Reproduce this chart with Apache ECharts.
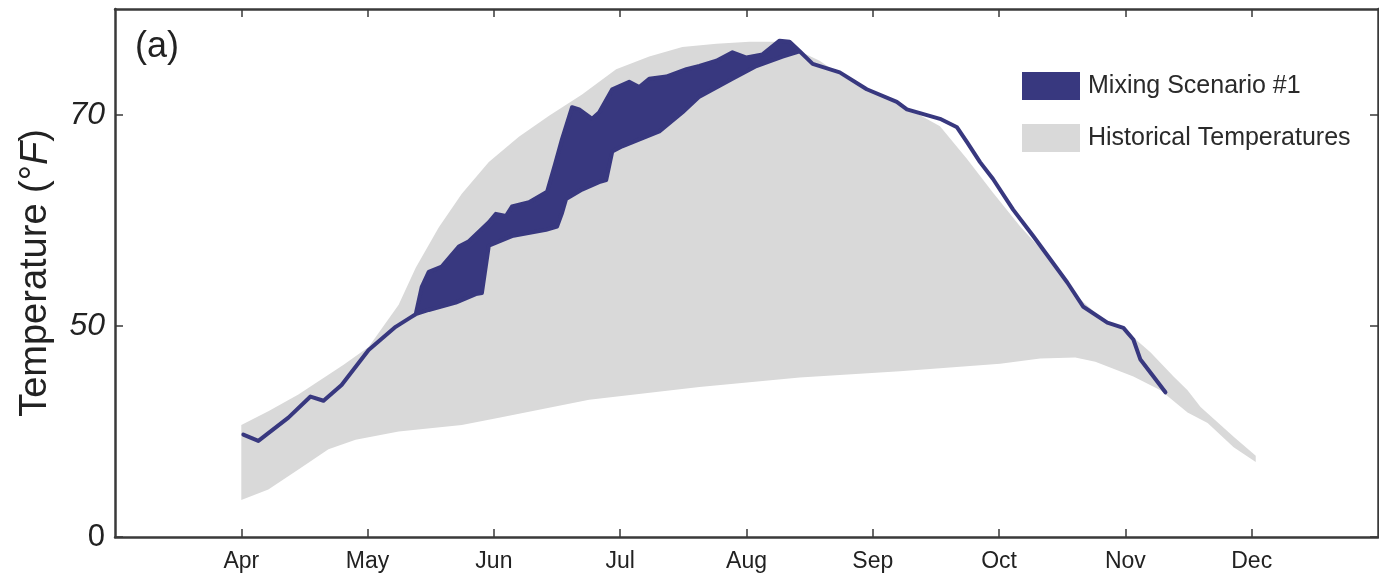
<!DOCTYPE html>
<html><head><meta charset="utf-8">
<script src="https://cdn.jsdelivr.net/npm/echarts@6/dist/echarts.min.js"></script>
<style>html,body{margin:0;padding:0;background:#fff}#c{width:1379px;height:581px}</style>
</head><body><div id="c"></div>
<script>
// x values are months since Apr 1 (Apr = 0)
const monthLabels = ['Apr','May','Jun','Jul','Aug','Sep','Oct','Nov','Dec'];
const monthTicks = [0,1,2,3,4,5,6,7,8];
const yTicks = [30,50,70];
const yTickLabels = ['0','50','70'];

// Historical temperatures envelope
const histHighX = [0,0.214,0.452,0.810,1.008,1.246,1.381,1.563,1.746,1.960,2.198,2.437,2.698,2.968,3.230,3.492,3.762,4.024,4.286,4.421,4.579,4.738,4.976,5.214,5.532,5.746,5.952,6.167,6.381,6.587,6.802,7.016,7.198,7.381,7.492,7.595,7.857,8.032];
const histHigh  = [40.6,41.9,43.5,46.3,48.0,52.0,55.5,59.3,62.5,65.5,67.9,69.9,71.9,74.3,75.5,76.4,76.7,76.9,76.9,76.0,75.1,73.8,72.2,71.0,68.9,65.8,62.6,59.4,56.6,53.1,50.8,49.4,47.5,45.2,43.9,42.3,39.5,37.7];
const histLowX  = [0,0.214,0.452,0.690,0.905,1.246,1.746,2.040,2.754,3.627,4.421,5.214,6.008,6.325,6.603,6.762,7.063,7.278,7.492,7.651,7.857,8.032];
const histLow   = [33.5,34.5,36.4,38.3,39.2,40.0,40.6,41.3,43.0,44.2,45.1,45.7,46.4,46.9,47.0,46.6,45.2,43.9,41.8,40.8,38.5,37.1];

// Mixing Scenario #1 (single line before/after, a band in between)
const mixStartX = [0.016,0.135,0.373,0.548,0.651,0.794,1.008,1.222,1.341,1.381];
const mixStart  = [39.7,39.1,41.3,43.3,42.9,44.4,47.7,49.9,50.8,51.1];
const bandHighX = [1.429,1.484,1.587,1.722,1.802,1.960,2.016,2.095,2.143,2.278,2.421,2.484,2.540,2.619,2.675,2.778,2.833,2.937,3.071,3.151,3.230,3.365,3.524,3.627,3.762,3.889,4.000,4.127,4.262,4.341];
const bandHigh  = [53.7,55.1,55.6,57.5,58.0,59.8,60.6,60.4,61.3,61.7,62.7,65.3,67.7,70.7,70.5,69.6,70.2,72.4,73.1,72.6,73.4,73.6,74.3,74.6,75.1,75.9,75.4,75.7,77.0,76.9];
const bandLowX  = [1.484,1.698,1.857,1.905,1.960,2.143,2.413,2.500,2.540,2.571,2.698,2.833,2.889,2.937,3.016,3.310,3.492,3.627,3.889,4.079,4.286];
const bandLow   = [51.5,52.2,53.0,53.1,57.6,58.5,59.1,59.4,60.7,62.0,62.9,63.6,63.8,66.5,67.0,68.4,70.2,71.7,73.4,74.6,75.5];
const mixEndX   = [4.421,4.524,4.738,4.952,5.190,5.270,5.532,5.667,5.746,5.849,5.952,6.111,6.270,6.405,6.540,6.667,6.857,6.984,7.063,7.119,7.222,7.317];
const mixEnd    = [76.0,74.8,74.0,72.4,71.2,70.5,69.6,68.8,67.4,65.5,63.9,61.0,58.5,56.3,54.1,51.8,50.3,49.8,48.7,46.8,45.2,43.7];

function pts(xs, ys) { return xs.map((x, i) => [x, ys[i]]); }
const histPoly = pts(histHighX, histHigh).concat(pts(histLowX, histLow).reverse());
const mixTop = pts(mixStartX, mixStart).concat(pts(bandHighX, bandHigh), pts(mixEndX, mixEnd));
const mixBottom = pts(mixStartX, mixStart).concat(pts(bandLowX, bandLow), pts(mixEndX, mixEnd));
const mixPoly = mixTop.concat(mixBottom.reverse());

const GRAY = '#d9d9d9', NAVY = '#38387f', AXIS = '#3a3a3a';
const FONT = "'Liberation Sans',Arial,sans-serif";

function polyRender(fill, strokeW) {
  return function (params, api) {
    if (params.dataIndexInside !== 0) return null;
    const n = params.dataInsideLength, p = [];
    for (let i = 0; i < n; i++) p.push(api.coord([api.value(0, i), api.value(1, i)]));
    return {
      type: 'polygon',
      shape: { points: p },
      style: { fill: fill, stroke: strokeW ? fill : null, lineWidth: strokeW, lineJoin: 'round' }
    };
  };
}

const chart = echarts.init(document.getElementById('c'), null, { renderer: 'canvas' });
const tickCommon = { show: true, inside: true, length: 8, lineStyle: { color: AXIS, width: 1.5 } };
const lineCommon = { show: true, onZero: false, lineStyle: { color: AXIS, width: 2.5 } };
chart.setOption({
  animation: false,
  backgroundColor: '#fff',
  title: { text: '(a)', left: 130, top: 24, textStyle: { fontFamily: FONT, fontSize: 36, fontWeight: 'normal', color: '#222' } },
  legend: {
    orient: 'vertical', left: 1017, top: 67, itemWidth: 58, itemHeight: 28, itemGap: 24, icon: 'rect',
    textStyle: { fontFamily: FONT, fontSize: 25, color: '#2a2a2a', padding: [0, 0, 0, 3] },
    data: ['Mixing Scenario #1', 'Historical Temperatures']
  },
  grid: { left: 115, right: 1, top: 9, bottom: 44, containLabel: false },
  xAxis: [{
    type: 'value', min: -1, max: 9, position: 'bottom',
    axisLine: lineCommon,
    axisTick: Object.assign({ customValues: monthTicks }, tickCommon),
    axisLabel: { customValues: monthTicks, margin: 13, fontFamily: FONT, fontSize: 23, color: '#222',
      formatter: v => monthLabels[monthTicks.indexOf(Math.round(v))] || '' },
    splitLine: { show: false }
  }, {
    type: 'value', min: -1, max: 9, position: 'top',
    axisLine: lineCommon,
    axisTick: Object.assign({ customValues: monthTicks }, tickCommon),
    axisLabel: { show: false }, splitLine: { show: false }
  }],
  yAxis: [{
    type: 'value', min: 30, max: 80, position: 'left',
    axisLine: lineCommon,
    axisTick: Object.assign({ customValues: yTicks }, tickCommon),
    axisLabel: { customValues: yTicks, margin: 10, color: '#222',
      formatter: v => { const i = yTicks.indexOf(Math.round(v)); return i === 0 ? '{n|' + yTickLabels[i] + '}' : '{i|' + yTickLabels[i] + '}'; },
      rich: {
        n: { fontFamily: FONT, fontSize: 31, color: '#222' },
        i: { fontFamily: FONT, fontSize: 32, fontStyle: 'italic', color: '#222' }
      }
    },
    splitLine: { show: false },
    name: 'Temperature (°{f|F})', nameLocation: 'middle', nameGap: 60,
    nameTextStyle: { fontFamily: FONT, fontSize: 38, color: '#222',
      rich: { f: { fontFamily: FONT, fontSize: 38, fontStyle: 'italic', color: '#222' } } }
  }, {
    type: 'value', min: 30, max: 80, position: 'right',
    axisLine: lineCommon,
    axisTick: Object.assign({ customValues: yTicks }, tickCommon),
    axisLabel: { show: false }, splitLine: { show: false }
  }],
  series: [{
    name: 'Historical Temperatures', type: 'custom', xAxisIndex: 0, yAxisIndex: 0,
    itemStyle: { color: GRAY }, encode: { x: 0, y: 1 }, clip: true, z: 1,
    renderItem: polyRender(GRAY, 0), data: histPoly
  }, {
    name: 'Mixing Scenario #1', type: 'custom', xAxisIndex: 0, yAxisIndex: 0,
    itemStyle: { color: NAVY }, encode: { x: 0, y: 1 }, clip: true, z: 2,
    renderItem: polyRender(NAVY, 4), data: mixPoly
  }]
});
</script></body></html>
